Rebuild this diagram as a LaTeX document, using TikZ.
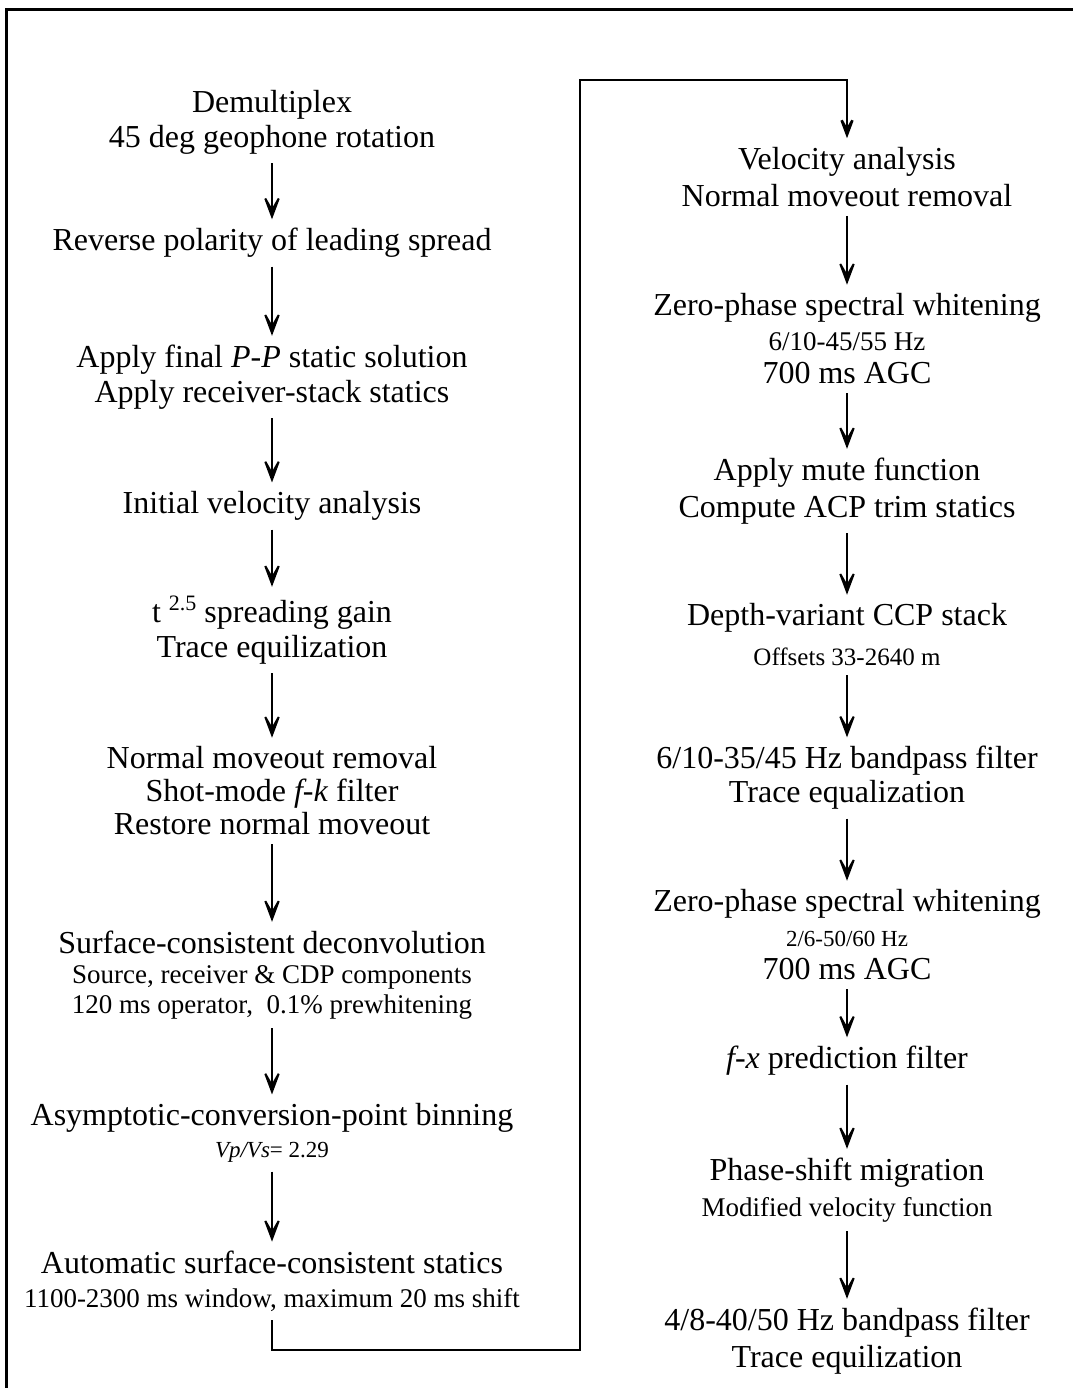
\documentclass[tikz,border=0pt]{standalone}
\usepackage{fontspec}
\setmainfont{Liberation Serif}
\usetikzlibrary{arrows.meta}
\newcommand\mainsz{\fontsize{32}{35}\selectfont}
\newcommand\subsz{\fontsize{27}{32}\selectfont}
\newcommand\midsz{\fontsize{25}{30}\selectfont}
\newcommand\minisz{\fontsize{23}{28}\selectfont}
\begin{document}
\begin{tikzpicture}[x=1pt,y=-1pt,
    stage/.style={align=center, inner sep=0pt, outer sep=9pt, font=\mainsz},
    flow/.style={line width=2pt, -{Stealth[length=32pt,width=24pt,inset=21pt]}},
    link/.style={line width=2.5pt},
    frame/.style={line width=3pt}]
  \useasboundingbox (0,0) rectangle (1073,1388);
  \draw[frame] (6,1388) -- (6,10) -- (1073,10);
  % left column
  \draw
    (272,122) node[stage] (l0) {Demultiplex\\45 deg geophone rotation}
    (272,243) node[stage] (l1) {Reverse polarity of leading spread}
    (272,377) node[stage] (l2) {Apply final \textit{P-P} static solution\\Apply receiver-stack statics}
    (272,506) node[stage] (l3) {Initial velocity analysis}
    (272,630) node[stage] (l4) {t \raisebox{12pt}{\fontsize{22}{22}\selectfont 2.5} spreading gain\\Trace equilization}
    (272,791) node[stage] (l5) {Normal moveout removal\\[-2pt]Shot-mode \textit{f-k} filter\\[-2pt]Restore normal moveout}
    (272,975) node[stage] (l6) {Surface-consistent deconvolution\\[-5pt]{\subsz Source, receiver \& CDP components}\\[-5pt]{\subsz 120 ms operator,\ \ 0.1\% prewhitening}}
    (272,1133) node[stage] (l7) {Asymptotic-conversion-point binning\\[-3pt]{\minisz \textit{Vp/Vs}= 2.29}}
    (272,1281) node[stage] (l8) {Automatic surface-consistent statics\\[-1pt]{\subsz 1100-2300 ms window, maximum 20 ms shift}};
  % right column
  \draw
    (847,177) node[stage] (r0) {Velocity analysis\\[2pt]Normal moveout removal}
    (847,339) node[stage] (r1) {Zero-phase spectral whitening\\{\subsz 6/10-45/55 Hz}\\[-2pt]700 ms AGC}
    (847,491) node[stage] (r2) {Apply mute function\\[2pt]Compute ACP trim statics}
    (847,635) node[stage] (r3) {Depth-variant CCP stack\\[5pt]{\midsz Offsets 33-2640 m}}
    (847,778) node[stage] (r4) {6/10-35/45 Hz bandpass filter\\[-1pt]Trace equalization}
    (847,935) node[stage] (r5) {Zero-phase spectral whitening\\{\minisz 2/6-50/60 Hz}\\[-2pt]700 ms AGC}
    (847,1061) node[stage] (r6) {\textit{f-x} prediction filter}
    (847,1190) node[stage] (r7) {Phase-shift migration\\[1pt]{\subsz Modified velocity function}}
    (847,1341) node[stage] (r8) {4/8-40/50 Hz bandpass filter\\[2pt]Trace equilization};
  \begin{scope}[flow]
    \draw (l0) to (l1);
    \draw (l1) to (l2);
    \draw (l2) to (l3);
    \draw (l3) to (l4);
    \draw (l4) to (l5);
    \draw (l5) to (l6);
    \draw (l6) to (l7);
    \draw (l7) to (l8);
    \draw (r0) to (r1);
    \draw (r1) to (r2);
    \draw (r2) to (r3);
    \draw (r3) to (r4);
    \draw (r4) to (r5);
    \draw (r5) to (r6);
    \draw (r6) to (r7);
    \draw (r7) to (r8);
  \end{scope}
  % wrap from bottom of left column to top of right column
  \coordinate (c0) at (580,1350);
  \coordinate (c1) at (580,80);
  \draw[flow,link] (l8) |- (c0) -- (c1) -| (r0);
\end{tikzpicture}
\end{document}
